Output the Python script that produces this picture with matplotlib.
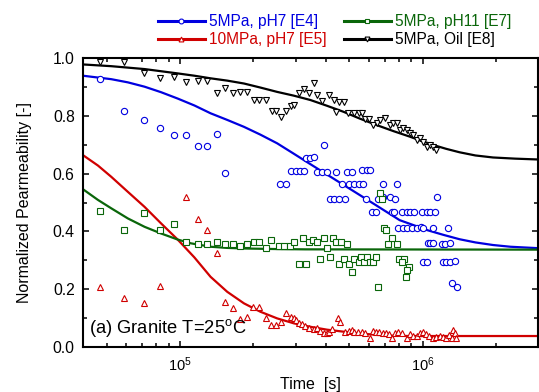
import matplotlib
matplotlib.use('Agg')
import matplotlib.pyplot as plt
from matplotlib.lines import Line2D
from matplotlib.ticker import MultipleLocator, NullFormatter, FormatStrFormatter

plt.rcParams['font.family'] = ['Liberation Sans', 'DejaVu Sans']
plt.rcParams['mathtext.fontset'] = 'custom'
plt.rcParams['mathtext.rm'] = 'Liberation Sans'
plt.rcParams['mathtext.it'] = 'Liberation Sans'

# --- measured points ---
# 5MPa, pH7 [E4]
e4_t = [4.71e4, 5.90e4, 7.10e4, 8.28e4, 9.45e4, 1.065e5, 1.185e5, 1.30e5, 1.42e5, 1.54e5,
        2.60e5, 2.73e5, 3.94e5, 3.32e5, 3.45e5, 3.56e5, 2.86e5, 3.00e5, 3.12e5, 3.24e5,
        3.68e5, 3.86e5, 4.04e5, 4.41e5, 4.88e5, 5.12e5, 5.62e5, 5.90e5, 6.08e5,
        4.66e5, 4.96e5, 5.23e5, 5.45e5, 5.71e5, 6.90e5, 7.87e5,
        4.17e5, 4.33e5, 4.54e5, 4.78e5, 5.86e5, 6.58e5, 6.90e5, 7.35e5, 7.70e5, 1.149e6,
        6.18e5, 6.42e5, 7.46e5, 7.63e5, 8.20e5, 8.60e5, 8.87e5, 9.21e5, 9.97e5, 1.039e6,
        1.078e6, 1.13e6,
        7.95e5, 8.28e5, 8.66e5, 9.07e5, 9.45e5, 9.81e5, 1.007e6, 1.099e6, 1.275e6,
        1.055e6, 1.078e6, 1.106e6, 1.197e6, 1.234e6, 1.294e6,
        1.007e6, 1.039e6, 1.216e6, 1.254e6, 1.294e6, 1.356e6,
        1.323e6, 1.391e6]
e4_k = [0.927, 0.817, 0.785, 0.758, 0.735, 0.734, 0.696, 0.696, 0.738, 0.601,
        0.564, 0.564, 0.699, 0.655, 0.655, 0.658, 0.609, 0.609, 0.609, 0.609,
        0.607, 0.605, 0.605, 0.607, 0.607, 0.607, 0.612, 0.612, 0.612,
        0.564, 0.564, 0.564, 0.564, 0.564, 0.564, 0.564,
        0.514, 0.514, 0.514, 0.512, 0.514, 0.514, 0.518, 0.520, 0.514, 0.520,
        0.466, 0.466, 0.466, 0.466, 0.466, 0.466, 0.466, 0.466, 0.466, 0.466,
        0.466, 0.466,
        0.411, 0.411, 0.411, 0.411, 0.411, 0.414, 0.411, 0.411, 0.411,
        0.359, 0.359, 0.359, 0.355, 0.355, 0.359,
        0.295, 0.295, 0.295, 0.295, 0.295, 0.299,
        0.222, 0.209]

# 10MPa, pH7 [E5]
e5_t = [4.71e4, 5.90e4, 7.10e4, 8.28e4, 1.065e5, 1.185e5, 1.30e5, 1.42e5, 1.54e5, 1.66e5,
        1.78e5, 1.89e5, 2.01e5, 2.12e5, 2.26e5, 2.37e5, 2.50e5, 2.62e5, 2.73e5,
        2.86e5, 2.95e5, 3.00e5, 3.09e5, 3.19e5, 3.29e5, 3.40e5, 3.56e5, 3.68e5, 3.79e5,
        3.92e5, 4.04e5, 4.11e5, 4.24e5, 4.47e5, 4.56e5, 4.80e5, 4.96e5, 5.12e5, 5.23e5,
        5.40e5, 5.62e5, 5.80e5, 6.08e5, 6.28e5, 6.43e5, 6.64e5, 6.85e5, 7.07e5, 7.30e5,
        7.46e5, 7.70e5, 7.95e5, 8.20e5, 8.60e5, 8.87e5, 9.16e5, 9.51e5, 9.75e5, 1.007e6,
        1.031e6, 1.065e6, 1.106e6, 1.141e6, 1.177e6, 1.216e6, 1.246e6, 1.287e6, 1.336e6,
        1.356e6, 1.327e6, 1.378e6]
e5_k = [0.209, 0.171, 0.153, 0.212, 0.520, 0.442, 0.405, 0.326, 0.157, 0.134,
        0.096, 0.105, 0.137, 0.137, 0.101, 0.076, 0.076, 0.085, 0.119,
        0.105, 0.099, 0.093, 0.084, 0.080, 0.073, 0.065, 0.061, 0.065, 0.057,
        0.047, 0.047, 0.053, 0.061, 0.099, 0.088, 0.051, 0.055, 0.059, 0.053,
        0.051, 0.053, 0.047, 0.030, 0.055, 0.053, 0.051, 0.047, 0.047, 0.044,
        0.030, 0.047, 0.051, 0.047, 0.030, 0.044, 0.039, 0.039, 0.047, 0.051,
        0.044, 0.039, 0.030, 0.036, 0.039, 0.036, 0.030, 0.040, 0.059,
        0.047, 0.030, 0.030]

# 5MPa, pH11 [E7]
e7_t = [4.71e4, 5.90e4, 7.10e4, 8.28e4, 9.45e4, 1.065e5, 1.185e5, 1.30e5, 1.42e5, 1.54e5,
        1.66e5, 1.78e5, 1.89e5, 2.02e5, 2.13e5, 2.26e5, 2.37e5, 2.56e5, 2.69e5, 2.84e5,
        2.97e5, 3.21e5, 3.42e5, 3.54e5, 3.68e5, 3.92e5, 4.04e5, 4.28e5, 4.41e5, 4.61e5,
        4.88e5, 3.09e5, 3.32e5, 3.79e5, 4.15e5, 4.51e5, 4.76e5, 4.99e5, 5.12e5, 5.23e5,
        5.45e5, 5.57e5, 5.75e5, 5.90e5, 6.05e5, 6.28e5, 6.42e5, 6.54e5, 6.94e5, 7.05e5,
        7.23e5, 7.46e5, 7.82e5, 8.03e5, 8.41e5, 8.20e5, 8.82e5, 8.66e5, 8.54e5,
        6.68e5, 6.80e5]
e7_k = [0.472, 0.405, 0.465, 0.405, 0.426, 0.362, 0.356, 0.356, 0.362, 0.356,
        0.356, 0.349, 0.356, 0.362, 0.362, 0.341, 0.370, 0.349, 0.349, 0.349,
        0.364, 0.378, 0.364, 0.370, 0.364, 0.378, 0.341, 0.378, 0.364, 0.364,
        0.356, 0.286, 0.286, 0.303, 0.310, 0.286, 0.303, 0.286, 0.261, 0.303,
        0.295, 0.310, 0.295, 0.310, 0.295, 0.295, 0.310, 0.207, 0.411, 0.405,
        0.356, 0.376, 0.356, 0.303, 0.303, 0.293, 0.278, 0.266, 0.243,
        0.534, 0.514]

# 5MPa, Oil [E8]
e8_t = [4.71e4, 5.89e4, 7.10e4, 8.28e4, 9.45e4, 1.065e5, 1.185e5, 1.30e5, 1.42e5, 1.54e5,
        1.66e5, 1.78e5, 1.89e5, 2.02e5, 2.13e5, 2.26e5, 2.39e5, 2.50e5, 2.62e5, 2.73e5,
        2.86e5, 2.97e5, 3.09e5, 3.24e5, 3.42e5, 3.56e5, 3.68e5, 3.86e5, 4.10e5, 4.30e5,
        4.51e5, 4.73e5, 4.40e5, 4.95e5, 5.20e5, 5.45e5, 5.62e5, 5.80e5, 5.99e5, 6.28e5,
        6.48e5, 6.68e5, 7.01e5, 7.35e5, 7.59e5, 7.82e5, 8.07e5, 8.34e5, 8.60e5, 8.87e5,
        9.16e5, 9.45e5, 9.75e5, 1.006e6, 1.04e6, 1.07e6, 1.10e6, 1.14e6]
e8_k = [0.987, 0.987, 0.950, 0.932, 0.935, 0.917, 0.919, 0.919, 0.880, 0.897,
        0.880, 0.882, 0.882, 0.855, 0.855, 0.855, 0.817, 0.817, 0.795, 0.817,
        0.834, 0.837, 0.878, 0.892, 0.878, 0.915, 0.872, 0.851, 0.872, 0.855,
        0.849, 0.849, 0.814, 0.811, 0.811, 0.811, 0.811, 0.788, 0.788, 0.768,
        0.774, 0.785, 0.791, 0.768, 0.774, 0.774, 0.751, 0.757, 0.751, 0.739,
        0.734, 0.716, 0.723, 0.710, 0.693, 0.699, 0.693, 0.682]

# --- fitted curves ---
e4_fit_t = [4.0e4, 5.23e4, 6.12e4, 7.17e4, 8.38e4, 9.81e4, 1.15e5, 1.34e5, 1.57e5, 1.84e5,
            2.15e5, 2.52e5, 2.95e5, 3.45e5, 4.04e5, 4.73e5, 5.71e5, 6.48e5, 8.05e5, 9.45e5,
            1.04e6, 1.22e6, 1.42e6, 1.65e6, 1.95e6, 2.3e6, 3.0e6]
e4_fit_k = [0.939, 0.927, 0.916, 0.901, 0.882, 0.860, 0.836, 0.809, 0.786, 0.762,
            0.735, 0.705, 0.669, 0.633, 0.597, 0.561, 0.518, 0.489, 0.439, 0.418,
            0.405, 0.388, 0.373, 0.362, 0.353, 0.347, 0.342]

e5_fit_t = [4.0e4, 4.61e4, 5.23e4, 6.12e4, 7.17e4, 8.38e4, 9.81e4, 1.15e5, 1.34e5, 1.57e5,
            1.84e5, 2.15e5, 2.52e5, 2.95e5, 3.45e5, 4.04e5, 4.73e5, 5.5e5, 6.48e5, 7.6e5,
            8.87e5, 3.0e6]
e5_fit_k = [0.664, 0.628, 0.589, 0.537, 0.485, 0.428, 0.372, 0.310, 0.243, 0.191,
            0.151, 0.122, 0.099, 0.082, 0.070, 0.060, 0.053, 0.047, 0.042, 0.039,
            0.038, 0.038]

e7_fit_t = [4.0e4, 4.61e4, 5.23e4, 6.12e4, 7.17e4, 8.38e4, 9.81e4, 1.11e5, 1.34e5, 1.57e5,
            1.84e5, 2.5e5, 3.29e5, 3.0e6]
e7_fit_k = [0.546, 0.509, 0.480, 0.445, 0.416, 0.393, 0.372, 0.359, 0.347, 0.343,
            0.341, 0.339, 0.338, 0.337]

e8_fit_t = [4.0e4, 5.23e4, 7.17e4, 9.81e4, 1.15e5, 1.34e5, 1.57e5, 1.84e5, 2.15e5, 2.52e5,
            2.95e5, 3.45e5, 4.04e5, 4.73e5, 5.5e5, 6.48e5, 7.6e5, 8.87e5, 1.0e6, 1.14e6,
            1.25e6, 1.42e6, 1.65e6, 1.95e6, 2.4e6, 3.0e6]
e8_fit_k = [0.978, 0.972, 0.962, 0.947, 0.939, 0.930, 0.922, 0.912, 0.898, 0.883,
            0.870, 0.855, 0.835, 0.814, 0.791, 0.768, 0.747, 0.728, 0.712, 0.696,
            0.686, 0.674, 0.663, 0.656, 0.652, 0.649]

labels = ['5MPa, pH7 [E4]', '10MPa, pH7 [E5]', '5MPa, pH11 [E7]', '5MPa, Oil [E8]']
colors = ['#0000e0', '#d00000', '#0a660a', '#000000']

fig = plt.figure(figsize=(5.39, 3.92), dpi=100)
ax = fig.add_axes([0.154, 0.1148, 0.845, 0.737])

# fit lines
ax.plot(e4_fit_t, e4_fit_k, color=colors[0], lw=1.6)
ax.plot(e5_fit_t, e5_fit_k, color=colors[1], lw=1.6)
ax.plot(e7_fit_t, e7_fit_k, color=colors[2], lw=1.6)
ax.plot(e8_fit_t, e8_fit_k, color=colors[3], lw=1.6)

# data points
mk = dict(ls='none', mfc='white', mew=0.8, ms=4.5)
ax.plot(e4_t, e4_k, marker='o', mec=colors[0], **mk)
ax.plot(e5_t, e5_k, marker='^', mec=colors[1], **mk)
ax.plot(e7_t, e7_k, marker='s', mec=colors[2], ls='none', mfc='white', mew=0.8, ms=4.0)
ax.plot(e8_t, e8_k, marker='v', mec=colors[3], **mk)

ax.set_xscale('log')
ax.set_xlim(4e4, 3e6)
ax.set_ylim(0, 1.0)
ax.yaxis.set_major_locator(MultipleLocator(0.2))
ax.yaxis.set_minor_locator(MultipleLocator(0.1))
ax.yaxis.set_major_formatter(FormatStrFormatter('%.1f'))
ax.xaxis.set_minor_formatter(NullFormatter())

for s in ax.spines.values():
    s.set_linewidth(1.5)
ax.tick_params(which='both', direction='in', top=True, right=True, width=1.1)
ax.tick_params(which='major', length=4.5)
ax.tick_params(which='minor', length=3)
ax.tick_params(axis='y', labelsize=11.3, pad=6)
ax.tick_params(axis='x', labelsize=10.5, pad=6)

ax.set_xlabel('Time  [s]', fontsize=11.5, labelpad=2)
ax.set_ylabel('Normalized Pearmeability [-]', fontsize=11.5, labelpad=15)

ax.text(0.013, 0.066, r'(a) Granite T=25$^{\mathrm{o}}$C', transform=ax.transAxes,
        fontsize=13.2, va='center', ha='left')

# legend
markers = ['o', '^', 's', 'v']
handles = [Line2D([], [], color=c, lw=2.2, marker=m, mfc='white', mec=c, mew=0.8, ms=3.5)
           for c, m in zip(colors, markers)]
fig.legend(handles, labels, ncol=2,
           loc='upper left', bbox_to_anchor=(158 / 539, 1 - 14 / 392),
           frameon=False, fontsize=11.2, handlelength=3.0, handletextpad=0.25,
           columnspacing=1.15, labelspacing=0.22, borderpad=0, borderaxespad=0,
           numpoints=1, labelcolor=colors)

fig.savefig('out.png', dpi=100)
